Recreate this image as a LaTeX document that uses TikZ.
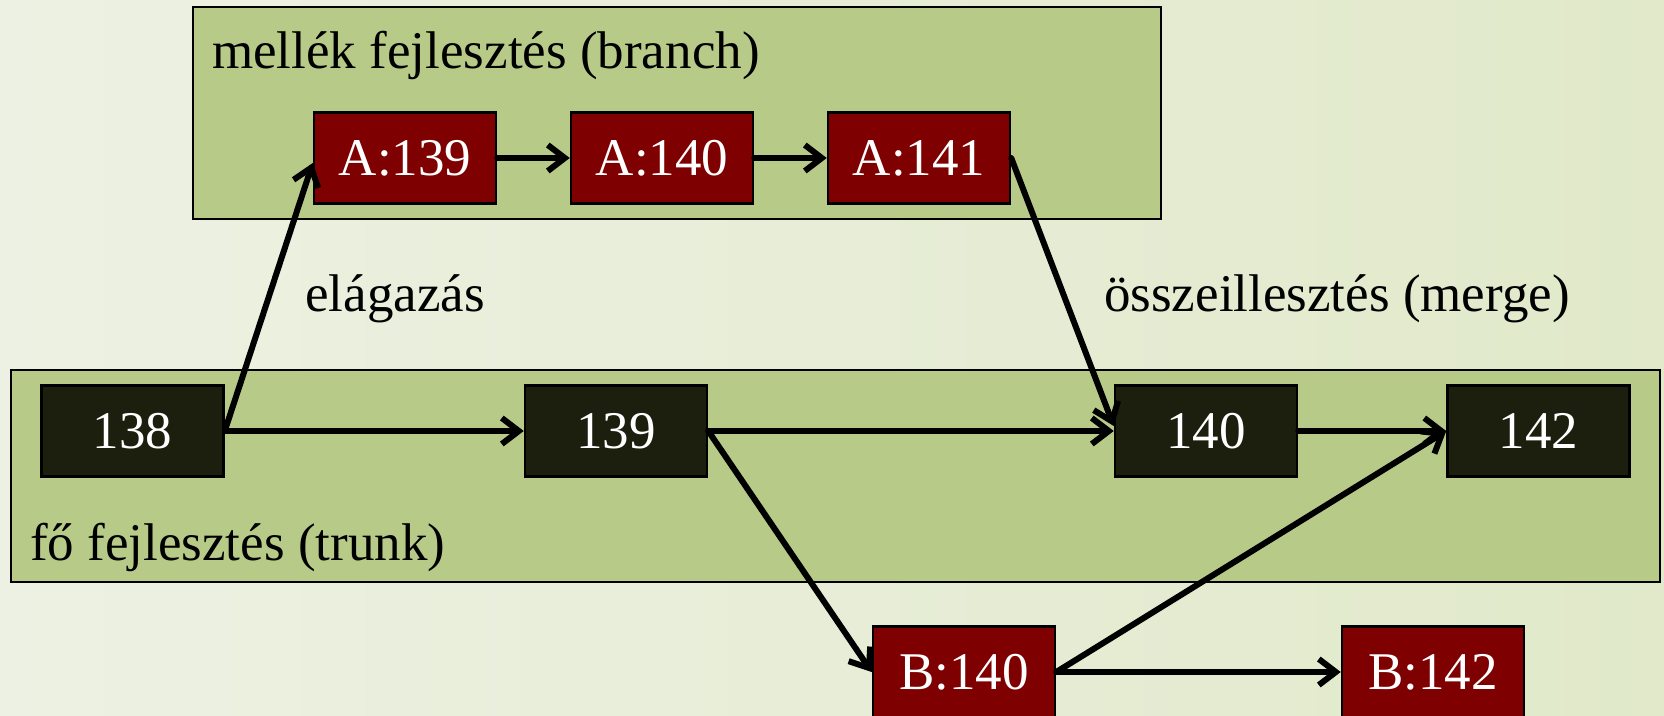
\documentclass[tikz,border=0pt]{standalone}
\usepackage{fontspec}
\setmainfont{Liberation Serif}
\usetikzlibrary{arrows.meta,calc}
\definecolor{bgL}{HTML}{EDF1E3}
\definecolor{bgM}{HTML}{FDFEFB}
\definecolor{bgR}{HTML}{E1E9CA}
\definecolor{panel}{HTML}{B8CA88}
\definecolor{maroon}{HTML}{7F0000}
\definecolor{darkbox}{HTML}{1C1F0E}
\tikzset{
  panelbox/.style={draw=black, line width=2.5pt, fill=panel},
  revbox/.style={draw=black, line width=2.5pt, minimum width=182pt, minimum height=91pt, inner sep=0pt, text=white, font=\fontsize{53}{60}\selectfont},
  brbox/.style={revbox, fill=maroon},
  trbox/.style={revbox, fill=darkbox},
  lbl/.style={anchor=base west, inner sep=0pt, text=black, font=\fontsize{53}{60}\selectfont},
  link/.style={line width=6pt, -{Straight Barb[length=17pt,width=26pt,line width=6pt]}, line cap=round, line join=round}
}
\begin{document}
\begin{tikzpicture}[x=1pt,y=-1pt]
\useasboundingbox (0,0) rectangle (1664,715);
\shade[left color=bgL, middle color=bgM, right color=bgR] (0,0) rectangle (1664,715);
% panels
\draw[panelbox] (193,7) rectangle (1161,219);
\draw[panelbox] (11,370) rectangle (1660,582);
% labels
\node[lbl] (tbranch) at (212,68) {mellék fejlesztés (branch)};
\node[lbl] (ttrunk) at (30,560) {fő fejlesztés (trunk)};
\node[lbl] (telag) at (305,311) {elágazás};
\node[lbl] (tmerge) at (1104,311) {összeillesztés (merge)};
% revisions
\node[brbox] (A139) at (405,158) {A:139};
\node[brbox] (A140) at (662,158) {A:140};
\node[brbox] (A141) at (919,158) {A:141};
\node[trbox] (n138) at (132.5,431) {138};
\node[trbox] (n139) at (616,431) {139};
\node[trbox] (n140) at (1206,431) {140};
\node[trbox] (n142) at (1538.5,431) {142};
\node[brbox] (B140) at (964,672) {B:140};
\node[brbox] (B142) at (1433,672) {B:142};
% connectors
\draw[link] (n138.east) -- ($(A139.west)+(0,5)$);
\draw[link] (n138.east) -- (n139.west);
\draw[link] (A139.east) -- (A140.west);
\draw[link] (A140.east) -- (A141.west);
\draw[link] (A141.east) -- ($(n140.west)+(0,-5)$);
\draw[link] (n139.east) -- (n140.west);
\draw[link] (n139.east) -- (B140.west);
\draw[link] (n140.east) -- (n142.west);
\draw[link] (B140.east) -- (n142.west);
\draw[link] (B140.east) -- (B142.west);
\end{tikzpicture}
\end{document}
